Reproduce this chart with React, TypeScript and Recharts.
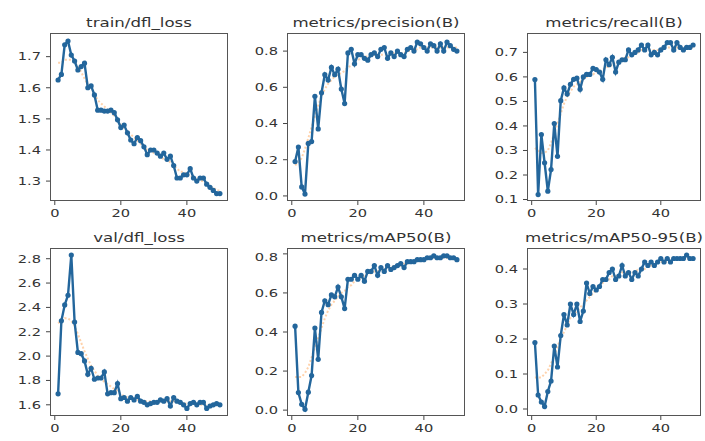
import { LineChart, Line, XAxis, YAxis } from "recharts";

const epochs = [
  1, 2, 3, 4, 5, 6, 7, 8, 9, 10, 11, 12, 13, 14, 15, 16, 17, 18, 19, 20, 21, 22, 23, 24, 25,
  26, 27, 28, 29, 30, 31, 32, 33, 34, 35, 36, 37, 38, 39, 40, 41, 42, 43, 44, 45, 46, 47, 48, 49, 50,
];

const trainDflLoss = [
  1.625, 1.643, 1.738, 1.75, 1.705, 1.686, 1.657, 1.668, 1.679, 1.6, 1.606, 1.577, 1.528, 1.528, 1.525,
  1.525, 1.528, 1.52, 1.497, 1.472, 1.48, 1.455, 1.432, 1.42, 1.44, 1.43, 1.41, 1.385, 1.4, 1.4,
  1.39, 1.38, 1.39, 1.37, 1.38, 1.35, 1.31, 1.31, 1.32, 1.32, 1.34, 1.31, 1.3, 1.31, 1.31,
  1.29, 1.28, 1.27, 1.26, 1.26,
];
const trainDflLossSmooth = [
  1.68, 1.68, 1.69, 1.69, 1.69, 1.68, 1.67, 1.65, 1.63, 1.61, 1.6, 1.58, 1.56, 1.55, 1.54,
  1.53, 1.52, 1.51, 1.5, 1.48, 1.47, 1.46, 1.45, 1.44, 1.43, 1.42, 1.41, 1.4, 1.4, 1.39,
  1.39, 1.38, 1.37, 1.37, 1.36, 1.35, 1.34, 1.33, 1.33, 1.32, 1.32, 1.31, 1.31, 1.3, 1.3,
  1.29, 1.28, 1.28, 1.27, 1.27,
];

const precision = [
  0.19, 0.27, 0.05, 0.01, 0.29, 0.3, 0.55, 0.37, 0.57, 0.67, 0.64, 0.71, 0.67, 0.7, 0.59,
  0.51, 0.79, 0.81, 0.73, 0.78, 0.78, 0.76, 0.75, 0.78, 0.79, 0.77, 0.81, 0.82, 0.76, 0.79,
  0.77, 0.8, 0.78, 0.77, 0.81, 0.82, 0.8, 0.85, 0.84, 0.82, 0.8, 0.84, 0.83, 0.8, 0.84,
  0.8, 0.85, 0.83, 0.81, 0.8,
];
const precisionSmooth = [
  0.17, 0.18, 0.21, 0.26, 0.32, 0.38, 0.44, 0.5, 0.55, 0.59, 0.62, 0.64, 0.66, 0.67, 0.68,
  0.69, 0.71, 0.72, 0.74, 0.75, 0.76, 0.77, 0.77, 0.78, 0.78, 0.78, 0.78, 0.78, 0.78, 0.78,
  0.79, 0.79, 0.79, 0.79, 0.8, 0.8, 0.81, 0.81, 0.82, 0.82, 0.82, 0.82, 0.82, 0.82, 0.82,
  0.82, 0.82, 0.82, 0.82, 0.82,
];

const recall = [
  0.589, 0.12, 0.365, 0.25, 0.134, 0.222, 0.41, 0.276, 0.503, 0.555, 0.53, 0.57, 0.59, 0.595, 0.55,
  0.6, 0.61, 0.61, 0.635, 0.63, 0.62, 0.59, 0.67, 0.65, 0.68, 0.62, 0.66, 0.67, 0.67, 0.71,
  0.69, 0.7, 0.71, 0.73, 0.71, 0.73, 0.69, 0.7, 0.69, 0.71, 0.72, 0.74, 0.74, 0.71, 0.74,
  0.72, 0.71, 0.72, 0.72, 0.73,
];
const recallSmooth = [
  0.31, 0.3, 0.29, 0.29, 0.3, 0.33, 0.37, 0.41, 0.45, 0.49, 0.52, 0.54, 0.56, 0.57, 0.58,
  0.59, 0.6, 0.61, 0.61, 0.62, 0.62, 0.63, 0.64, 0.64, 0.65, 0.66, 0.66, 0.67, 0.68, 0.68,
  0.69, 0.7, 0.7, 0.71, 0.71, 0.71, 0.71, 0.71, 0.71, 0.71, 0.72, 0.72, 0.72, 0.72, 0.72,
  0.72, 0.72, 0.72, 0.72, 0.72,
];

const valDflLoss = [
  1.69, 2.29, 2.42, 2.5, 2.83, 2.28, 2.03, 2.02, 1.96, 1.85, 1.9, 1.81, 1.82, 1.82, 1.87,
  1.69, 1.7, 1.7, 1.775, 1.65, 1.66, 1.63, 1.66, 1.64, 1.67, 1.63, 1.62, 1.6, 1.61, 1.62,
  1.62, 1.64, 1.63, 1.65, 1.59, 1.66, 1.63, 1.62, 1.6, 1.57, 1.61, 1.62, 1.6, 1.62, 1.62,
  1.57, 1.59, 1.6, 1.61, 1.6,
];
const valDflLossSmooth = [
  2.27, 2.29, 2.31, 2.31, 2.29, 2.25, 2.18, 2.11, 2.04, 1.98, 1.92, 1.88, 1.84, 1.81, 1.79,
  1.77, 1.75, 1.73, 1.71, 1.69, 1.67, 1.66, 1.65, 1.64, 1.64, 1.63, 1.63, 1.63, 1.63, 1.63,
  1.63, 1.63, 1.63, 1.63, 1.63, 1.63, 1.62, 1.62, 1.61, 1.61, 1.61, 1.61, 1.6, 1.6, 1.6,
  1.6, 1.6, 1.6, 1.6, 1.6,
];

const mAP50 = [
  0.43, 0.09, 0.03, 0.004, 0.092, 0.177, 0.42, 0.26, 0.5, 0.56, 0.54, 0.59, 0.58, 0.63, 0.58,
  0.52, 0.67, 0.67, 0.69, 0.67, 0.69, 0.66, 0.71, 0.71, 0.74, 0.69, 0.73, 0.71, 0.74, 0.72,
  0.73, 0.74, 0.75, 0.73, 0.76, 0.76, 0.76, 0.77, 0.77, 0.77, 0.78, 0.78, 0.79, 0.78, 0.78,
  0.79, 0.79, 0.78, 0.78, 0.77,
];
const mAP50Smooth = [
  0.17, 0.17, 0.17, 0.19, 0.22, 0.27, 0.32, 0.37, 0.42, 0.47, 0.51, 0.54, 0.56, 0.58, 0.6,
  0.61, 0.63, 0.64, 0.66, 0.67, 0.68, 0.69, 0.7, 0.7, 0.71, 0.71, 0.72, 0.72, 0.73, 0.73,
  0.74, 0.74, 0.74, 0.75, 0.75, 0.76, 0.76, 0.77, 0.77, 0.77, 0.78, 0.78, 0.78, 0.78, 0.78,
  0.78, 0.78, 0.78, 0.78, 0.78,
];

const mAP5095 = [
  0.19, 0.04, 0.02, 0.007, 0.05, 0.08, 0.18, 0.12, 0.21, 0.27, 0.24, 0.3, 0.27, 0.3, 0.25,
  0.28, 0.36, 0.33, 0.35, 0.34, 0.35, 0.37, 0.37, 0.39, 0.4, 0.37, 0.38, 0.41, 0.38, 0.39,
  0.37, 0.39, 0.38, 0.4, 0.42, 0.41, 0.42, 0.41, 0.42, 0.43, 0.42, 0.43, 0.42, 0.43, 0.43,
  0.43, 0.43, 0.44, 0.43, 0.43,
];
const mAP5095Smooth = [
  0.09, 0.09, 0.09, 0.1, 0.11, 0.13, 0.15, 0.18, 0.2, 0.22, 0.24, 0.26, 0.27, 0.28, 0.29,
  0.3, 0.31, 0.32, 0.33, 0.34, 0.35, 0.36, 0.37, 0.37, 0.38, 0.38, 0.38, 0.39, 0.39, 0.39,
  0.39, 0.39, 0.4, 0.4, 0.4, 0.41, 0.41, 0.41, 0.42, 0.42, 0.42, 0.42, 0.43, 0.43, 0.43,
  0.43, 0.43, 0.43, 0.43, 0.43,
];

const xTicks = [0, 20, 40];

const BLUE = "#23669c";
const ORANGE = "#ff7f0e";
const TEXT = "#333";
const FONT = "DejaVu Sans";
const STRETCH = 1.33;
const YAXIS_W = 60;
const XAXIS_H = 26;

type Panel = {
  title: string;
  values: number[];
  smooth: number[];
  yDomain: [number, number];
  yTicks: number[];
  box: [number, number, number, number]; // left, top, right, bottom
};

const panels: Panel[] = [
  { title: "train/dfl_loss", values: trainDflLoss, smooth: trainDflLossSmooth, yDomain: [1.236, 1.776], yTicks: [1.3, 1.4, 1.5, 1.6, 1.7], box: [50, 33, 228, 201] },
  { title: "metrics/precision(B)", values: precision, smooth: precisionSmooth, yDomain: [-0.028, 0.9], yTicks: [0, 0.2, 0.4, 0.6, 0.8], box: [287, 33, 465, 201] },
  { title: "metrics/recall(B)", values: recall, smooth: recallSmooth, yDomain: [0.094, 0.779], yTicks: [0.1, 0.2, 0.3, 0.4, 0.5, 0.6, 0.7], box: [527, 33, 701, 201] },
  { title: "val/dfl_loss", values: valDflLoss, smooth: valDflLossSmooth, yDomain: [1.508, 2.888], yTicks: [1.6, 1.8, 2.0, 2.2, 2.4, 2.6, 2.8], box: [50, 248, 228, 416] },
  { title: "metrics/mAP50(B)", values: mAP50, smooth: mAP50Smooth, yDomain: [-0.03, 0.83], yTicks: [0, 0.2, 0.4, 0.6, 0.8], box: [287, 248, 465, 416] },
  { title: "metrics/mAP50-95(B)", values: mAP5095, smooth: mAP5095Smooth, yDomain: [-0.02, 0.46], yTicks: [0, 0.1, 0.2, 0.3, 0.4], box: [527, 248, 701, 416] },
];

function YTick({ x, y, payload }: any) {
  return (
    <g transform={`translate(${x},${y})`}>
      <text transform={`scale(${STRETCH},1)`} textAnchor="end" dy="0.35em" fontSize={11} fill={TEXT} fontFamily={FONT}>
        {Number(payload.value).toFixed(1)}
      </text>
    </g>
  );
}

function XTick({ x, y, payload }: any) {
  return (
    <g transform={`translate(${x},${y})`}>
      <text transform={`scale(${STRETCH},1)`} textAnchor="middle" dy="0.75em" fontSize={11} fill={TEXT} fontFamily={FONT}>
        {payload.value}
      </text>
    </g>
  );
}

function ResultPanel({ p }: { p: Panel }) {
  const [l, t, r, b] = p.box;
  const w = r - l;
  const h = b - t;
  const rows = epochs.map((e, i) => ({ epoch: e, value: p.values[i], smooth: p.smooth[i] }));
  return (
    <>
      <div
        style={{
          position: "absolute",
          left: l + w / 2,
          top: t - 17,
          transform: `translateX(-50%) scaleX(${STRETCH})`,
          fontFamily: FONT,
          fontSize: 12.5,
          lineHeight: "14px",
          color: TEXT,
          whiteSpace: "nowrap",
        }}
      >
        {p.title}
      </div>
      <div style={{ position: "absolute", left: l - YAXIS_W, top: t }}>
        <LineChart width={YAXIS_W + w} height={h + XAXIS_H} data={rows} margin={{ top: 0, right: 0, bottom: 0, left: 0 }}>
          <XAxis
            dataKey="epoch"
            type="number"
            domain={[-1.45, 52.45]}
            ticks={xTicks}
            allowDataOverflow
            height={XAXIS_H}
            axisLine={false}
            tickLine={{ stroke: "#444" }}
            tickSize={4}
            tickMargin={4}
            tick={<XTick />}
          />
          <YAxis
            type="number"
            domain={p.yDomain}
            ticks={p.yTicks}
            allowDataOverflow
            width={YAXIS_W}
            axisLine={false}
            tickLine={{ stroke: "#444" }}
            tickSize={4}
            tickMargin={5}
            tick={<YTick />}
          />
          <Line
            dataKey="smooth"
            stroke={ORANGE}
            strokeOpacity={0.35}
            strokeWidth={2}
            strokeDasharray="2 2"
            dot={false}
            activeDot={false}
            isAnimationActive={false}
          />
          <Line
            dataKey="value"
            stroke={BLUE}
            strokeWidth={2.4}
            dot={{ r: 2.6, fill: BLUE, stroke: BLUE, strokeWidth: 0 }}
            activeDot={false}
            isAnimationActive={false}
          />
        </LineChart>
      </div>
      <div
        style={{
          position: "absolute",
          left: l,
          top: t,
          width: w,
          height: h,
          border: "1px solid #555",
          boxSizing: "border-box",
          pointerEvents: "none",
        }}
      />
    </>
  );
}

export default function App() {
  return (
    <div style={{ position: "absolute", left: 0, top: 0, width: 705, height: 441, background: "#fff", overflow: "hidden" }}>
      {panels.map((p) => (
        <ResultPanel key={p.title} p={p} />
      ))}
    </div>
  );
}
